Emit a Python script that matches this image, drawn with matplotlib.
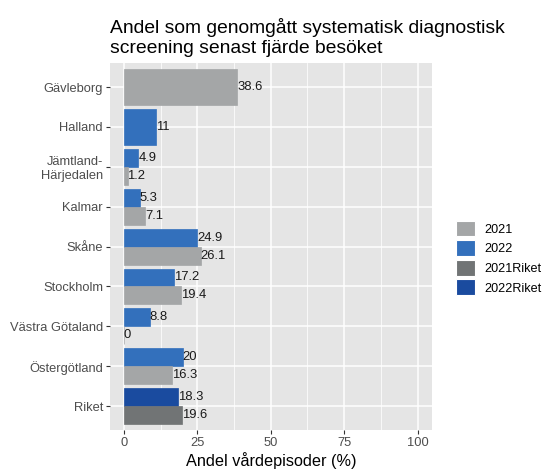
import matplotlib.pyplot as plt
from matplotlib.patches import Patch

plt.rcParams['font.family'] = ['Liberation Sans', 'DejaVu Sans']

# data
regions = ["Gävleborg", "Halland", "Jämtland-\nHärjedalen", "Kalmar", "Skåne",
           "Stockholm", "Västra Götaland", "Östergötland", "Riket"]
v2021 = [38.6, None, 1.2, 7.1, 26.1, 19.4, 0, 16.3, 19.6]
v2022 = [None, 11, 4.9, 5.3, 24.9, 17.2, 8.8, 20, 18.3]
groups = ["2021", "2022", "2021Riket", "2022Riket"]
colors = {"2021": "#a4a6a7", "2022": "#3370bc", "2021Riket": "#717475", "2022Riket": "#1a4b9f"}

fig = plt.figure(figsize=(5.44, 4.69), dpi=100)
ax = fig.add_axes([0.202, 0.083, 0.592, 0.7825])
ax.set_facecolor("#e5e5e5")

for i, name in enumerate(regions):
    a, b = v2021[i], v2022[i]
    riket = name == "Riket"
    c21 = colors["2021Riket"] if riket else colors["2021"]
    c22 = colors["2022Riket"] if riket else colors["2022"]
    if a is not None and b is not None:
        bars = [(b, i - 0.225, 0.45, c22), (a, i + 0.225, 0.45, c21)]
    elif a is not None:
        bars = [(a, i, 0.9, c21)]
    else:
        bars = [(b, i, 0.9, c22)]
    for val, y, h, c in bars:
        ax.barh(y, val, height=h, color=c, edgecolor=c, linewidth=0.5, zorder=3)
        ax.text(val, y, f"{val:g}", ha="left", va="center", fontsize=9.4,
                color="#1a1a1a", zorder=4)

ax.set_xlim(-4.8, 104.9)
ax.set_ylim(len(regions) - 0.4, -0.6)
ax.set_xticks([0, 25, 50, 75, 100])
ax.set_xticks([12.5, 37.5, 62.5, 87.5], minor=True)
ax.set_yticks(range(len(regions)))
ax.set_yticklabels(regions, fontsize=9.3, color="#4d4d4d")
ax.tick_params(axis="x", labelsize=9.3, colors="#4d4d4d", length=3, color="#333333", pad=2)
ax.tick_params(axis="y", length=3, color="#333333", pad=2)
ax.tick_params(which="minor", length=0)
ax.grid(True, which="major", color="white", linewidth=1.1, zorder=0)
ax.grid(True, which="minor", axis="x", color="white", linewidth=0.55, zorder=0)
ax.set_axisbelow(True)
for s in ax.spines.values():
    s.set_visible(False)

ax.set_xlabel("Andel vårdepisoder (%)", fontsize=11.7, labelpad=2)
fig.text(0.203, 0.8785, "Andel som genomgått systematisk diagnostisk\nscreening senast fjärde besöket",
         fontsize=13.9, ha="left", va="bottom", linespacing=1.22)

handles = [Patch(facecolor=colors[g], edgecolor="white", linewidth=0.8) for g in groups]
fig.legend(handles, groups, loc="center left", bbox_to_anchor=(0.839, 0.45),
           frameon=False, fontsize=9.1, handlelength=1.48, handleheight=1.55,
           handletextpad=0.77, labelspacing=0.3, borderpad=0, borderaxespad=0)

fig.savefig("out.png", dpi=100)
